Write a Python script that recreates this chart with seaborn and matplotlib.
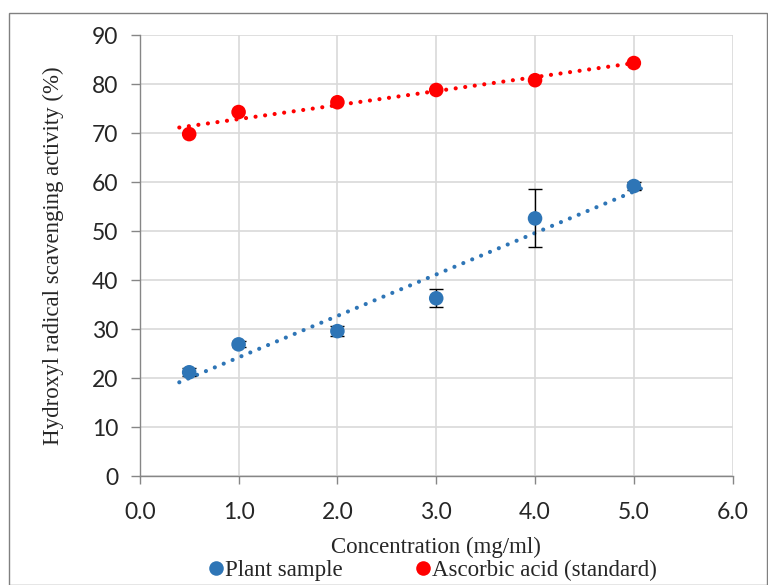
import numpy as np
import pandas as pd
import seaborn as sns
import matplotlib.pyplot as plt
from matplotlib.patches import Rectangle

conc = [0.5, 1.0, 2.0, 3.0, 4.0, 5.0]
plant = [21.2, 26.9, 29.6, 36.3, 52.6, 59.2]
plant_err = [0.8, 0.6, 1.0, 1.8, 5.9, 0.8]
ascorbic = [69.8, 74.3, 76.3, 78.8, 80.8, 84.3]
series_names = ["Plant sample", "Ascorbic acid (standard)"]
colors = ["#2E75B6", "#FF0000"]

df = pd.DataFrame({
    "conc": conc * 2,
    "value": plant + ascorbic,
    "series": [series_names[0]] * 6 + [series_names[1]] * 6,
})

sns.set_style("white")
fig = plt.figure(figsize=(7.68, 5.85), dpi=100)
ax = fig.add_axes([0.182, 0.186, 0.772, 0.754])

fig.patches.append(Rectangle((9 / 768, 0), 1 - 10 / 768, 1 - 13 / 585,
                             transform=fig.transFigure, fill=False,
                             edgecolor="#808080", linewidth=1.0))

# trendlines
for vals, c in zip([plant, ascorbic], colors):
    k, b = np.polyfit(conc, vals, 1)
    xs = np.array([0.4, 5.1])
    ax.plot(xs, k * xs + b, linestyle=(0, (0.01, 2.3)), color=c, linewidth=3.0,
            dash_capstyle="round", solid_capstyle="round", zorder=2)

ax.errorbar(conc, plant, yerr=plant_err, fmt="none", ecolor="black",
            elinewidth=1, capsize=5, capthick=1, zorder=3)

sns.scatterplot(data=df, x="conc", y="value", hue="series",
                palette=colors, s=110, edgecolor="none", ax=ax, zorder=4)

ax.set_xlim(0, 6)
ax.set_ylim(0, 90)
ax.set_xticks(np.arange(0, 6.1, 1.0))
ax.set_xticklabels([f"{v:.1f}" for v in np.arange(0, 6.1, 1.0)])
ax.set_yticks(np.arange(0, 91, 10))
ax.grid(True, color="#D9D9D9", linewidth=1.2)
ax.set_axisbelow(True)
for s in ["top", "right"]:
    ax.spines[s].set_visible(False)
for s in ["left", "bottom"]:
    ax.spines[s].set_color("#868686")
    ax.spines[s].set_linewidth(1.0)
ax.tick_params(axis="y", left=True, length=6.5, color="#868686", width=1,
               labelsize=16.5, labelcolor="#262626", pad=9)
ax.tick_params(axis="x", bottom=True, length=5.5, color="#868686", width=1,
               labelsize=16.5, labelcolor="#262626", pad=13)
for lab in ax.get_xticklabels() + ax.get_yticklabels():
    lab.set_family("Lato")

ax.set_xlabel("Concentration (mg/ml)", family="Liberation Serif", fontsize=16.5,
              labelpad=10)
ax.set_ylabel("Hydroxyl radical scavenging activity (%)", family="Liberation Serif",
              fontsize=16.5, labelpad=20)

leg = ax.legend(loc="upper center", bbox_to_anchor=(0.49, -0.158), ncol=2,
                frameon=False, prop={"family": "Liberation Serif", "size": 16.5},
                handletextpad=-0.1, columnspacing=3.0, markerscale=1.0,
                handlelength=1.0, borderpad=0.1)

fig.savefig("out.png", dpi=100)
